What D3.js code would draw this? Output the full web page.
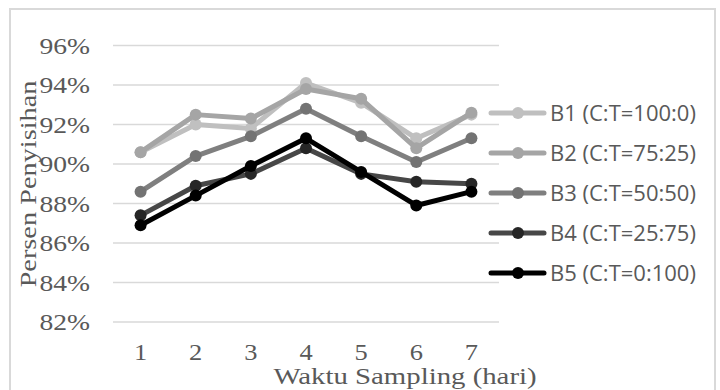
<html lang="en">
<head>
<meta charset="utf-8">
<title>Persen Penyisihan</title>
<script src="https://cdn.jsdelivr.net/npm/d3@7"></script>
<style>
  body { margin: 0; background: #fff; }
</style>
</head>
<body>
<script>
var w = 720, h = 390;

// data
var days = ["1", "2", "3", "4", "5", "6", "7"];
var names = ["B1 (C:T=100:0)", "B2 (C:T=75:25)", "B3 (C:T=50:50)", "B4 (C:T=25:75)", "B5 (C:T=0:100)"];
var b1 = [90.6, 92.0, 91.8, 94.1, 93.1, 91.3, 92.5];
var b2 = [90.6, 92.5, 92.3, 93.8, 93.3, 90.8, 92.6];
var b3 = [88.6, 90.4, 91.4, 92.8, 91.4, 90.1, 91.3];
var b4 = [87.4, 88.9, 89.5, 90.8, 89.5, 89.1, 89.0];
var b5 = [86.9, 88.4, 89.9, 91.3, 89.6, 87.9, 88.6];
var yTicks = [82, 84, 86, 88, 90, 92, 94, 96];

var series = [b1, b2, b3, b4, b5];
var lineCol = ["#bfbfbf", "#a5a5a5", "#7f7f7f", "#474747", "#000000"];
var dotCol = ["#c0c0c0", "#a5a5a5", "#737373", "#262626", "#000000"];

var svg = d3.select("body").append("svg")
    .attr("width", w)
    .attr("height", h);

// chart border
svg.append("rect")
    .attr("x", 10).attr("y", 9)
    .attr("width", 705).attr("height", 400)
    .attr("fill", "none")
    .attr("stroke", "#d9d9d9")
    .attr("stroke-width", 2);

var x = d3.scaleBand()
    .domain(days)
    .range([113, 499]);

var y = d3.scaleLinear()
    .domain([82, 96])
    .range([322, 45.5]);

// grid lines
svg.selectAll("line.grid")
    .data(yTicks)
    .enter()
    .append("line")
    .attr("class", "grid")
    .attr("x1", 113).attr("x2", 499)
    .attr("y1", function(d) { return y(d); })
    .attr("y2", function(d) { return y(d); })
    .attr("stroke", "#d9d9d9")
    .attr("stroke-width", 1.5);

var serif = "'Liberation Serif', 'DejaVu Serif', serif";

// y tick labels (stretched a bit, the original face is wider)
svg.selectAll("text.yt")
    .data(yTicks)
    .enter()
    .append("text")
    .attr("class", "yt")
    .attr("transform", function(d) { return "translate(90," + y(d) + ") scale(1.15,1)"; })
    .attr("dy", "0.35em")
    .attr("text-anchor", "end")
    .attr("font-family", serif)
    .attr("font-size", "24px")
    .attr("fill", "#595959")
    .text(function(d) { return d + "%"; });

// x tick labels
svg.selectAll("text.xt")
    .data(days)
    .enter()
    .append("text")
    .attr("class", "xt")
    .attr("transform", function(d) { return "translate(" + (x(d) + x.bandwidth() / 2) + ",352) scale(1.15,1)"; })
    .attr("dy", "0.35em")
    .attr("text-anchor", "middle")
    .attr("font-family", serif)
    .attr("font-size", "23px")
    .attr("fill", "#595959")
    .text(function(d) { return d; });

// axis titles
svg.append("text")
    .attr("transform", "translate(405,376) scale(1.2,1)")
    .attr("dy", "0.35em")
    .attr("text-anchor", "middle")
    .attr("font-family", serif)
    .attr("font-size", "24px")
    .attr("fill", "#595959")
    .text("Waktu Sampling (hari)");

svg.append("text")
    .attr("transform", "translate(28,184) rotate(-90) scale(1.18,1)")
    .attr("dy", "0.35em")
    .attr("text-anchor", "middle")
    .attr("font-family", serif)
    .attr("font-size", "24px")
    .attr("fill", "#595959")
    .text("Persen Penyisihan");

var line = d3.line()
    .x(function(d, i) { return x(days[i]) + x.bandwidth() / 2; })
    .y(function(d) { return y(d); });

var g = svg.selectAll("g.series")
    .data(series)
    .enter()
    .append("g")
    .attr("class", "series");

g.append("path")
    .attr("d", function(d) { return line(d); })
    .attr("fill", "none")
    .attr("stroke", function(d, i) { return lineCol[i]; })
    .attr("stroke-width", 5)
    .attr("stroke-linejoin", "round");

g.each(function(s, si) {
    d3.select(this).selectAll("circle")
        .data(s)
        .enter()
        .append("circle")
        .attr("cx", function(d, i) { return x(days[i]) + x.bandwidth() / 2; })
        .attr("cy", function(d) { return y(d); })
        .attr("r", 6)
        .attr("fill", dotCol[si]);
});

// legend
var leg = svg.selectAll("g.leg")
    .data(names)
    .enter()
    .append("g")
    .attr("class", "leg")
    .attr("transform", function(d, i) { return "translate(0," + (113 + i * 40) + ")"; });

leg.append("line")
    .attr("x1", 491).attr("x2", 544)
    .attr("stroke", function(d, i) { return lineCol[i]; })
    .attr("stroke-width", 5)
    .attr("stroke-linecap", "round");

leg.append("circle")
    .attr("cx", 518)
    .attr("r", 6)
    .attr("fill", function(d, i) { return dotCol[i]; });

leg.append("text")
    .attr("x", 550)
    .attr("dy", "0.35em")
    .attr("font-family", "'Open Sans', 'Noto Sans', sans-serif")
    .attr("font-size", "22px")
    .attr("fill", "#595959")
    .text(function(d) { return d; });
</script>
</body>
</html>
